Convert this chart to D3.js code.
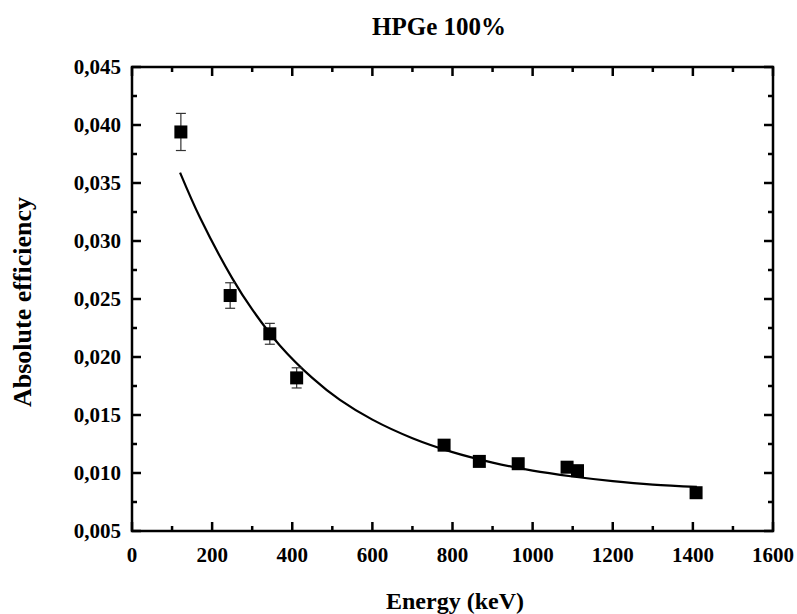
<!DOCTYPE html>
<html>
<head>
<meta charset="utf-8">
<script src="https://cdn.jsdelivr.net/npm/d3@7"></script>
<style>
  body { margin: 0; background: #fff; }
  svg { display: block; }
  text { font-family: "Liberation Serif", "Times New Roman", serif; font-weight: bold; fill: #000; }
</style>
</head>
<body>
<svg id="chart" width="797" height="614"></svg>
<script>
// ---- data ----
const energies   = [122, 245, 344, 411, 779, 867, 964, 1086, 1112, 1408];
const efficiency = [0.0394, 0.0253, 0.0220, 0.0182, 0.0124, 0.0110, 0.0108, 0.0105, 0.0102, 0.0083];
const errors     = [0.0016, 0.0011, 0.0009, 0.00087, 0.0003, 0.0003, 0.0003, 0.0003, 0.0003, 0.0003];
const fitEnergy  = [120, 170, 250, 300, 369, 450, 519, 600, 700, 800, 900, 1000, 1100, 1200, 1300, 1410];
const fitValue   = [0.0359, 0.0320, 0.0268, 0.0241, 0.0210, 0.0182, 0.0163, 0.0146, 0.0130, 0.0118, 0.0109, 0.0102, 0.0097, 0.0093, 0.0090, 0.0088];
const xTicks     = [0, 200, 400, 600, 800, 1000, 1200, 1400, 1600];
const yTicks     = [0.005, 0.010, 0.015, 0.020, 0.025, 0.030, 0.035, 0.040, 0.045];
const titleText  = "HPGe 100%";
const xLabel     = "Energy (keV)";
const yLabel     = "Absolute efficiency";

// ---- layout ----
const L = 132, R = 773, T = 67, B = 531;
const svg = d3.select("#chart");
const x = d3.scaleLinear().domain([0, 1600]).range([L, R]);
const y = d3.scaleLinear().domain([0.005, 0.045]).range([B, T]);
const fmtY = v => d3.format(".3f")(v).replace(".", ",");

const xMinor = d3.range(0, 1601, 100).filter(v => v % 200 !== 0);
const yMinor = d3.range(0, 8).map(i => 0.0075 + i * 0.005);

const ax = svg.append("g").attr("stroke", "#000").attr("stroke-width", 2.5).attr("stroke-linecap", "butt");
ax.append("rect").attr("x", L).attr("y", T).attr("width", R - L).attr("height", B - T)
  .attr("fill", "none").attr("stroke-linejoin", "miter");

const majLen = 9, minLen = 5;
xTicks.forEach(v => {
  ax.append("line").attr("x1", x(v)).attr("x2", x(v)).attr("y1", B).attr("y2", B - majLen);
  ax.append("line").attr("x1", x(v)).attr("x2", x(v)).attr("y1", T).attr("y2", T + majLen);
});
xMinor.forEach(v => {
  ax.append("line").attr("x1", x(v)).attr("x2", x(v)).attr("y1", B).attr("y2", B - minLen);
  ax.append("line").attr("x1", x(v)).attr("x2", x(v)).attr("y1", T).attr("y2", T + minLen);
});
yTicks.forEach(v => {
  ax.append("line").attr("y1", y(v)).attr("y2", y(v)).attr("x1", L).attr("x2", L + majLen);
  ax.append("line").attr("y1", y(v)).attr("y2", y(v)).attr("x1", R).attr("x2", R - majLen);
});
yMinor.forEach(v => {
  ax.append("line").attr("y1", y(v)).attr("y2", y(v)).attr("x1", L).attr("x2", L + minLen);
  ax.append("line").attr("y1", y(v)).attr("y2", y(v)).attr("x1", R).attr("x2", R - minLen);
});

// tick labels
svg.append("g").selectAll("text").data(xTicks).join("text")
  .attr("x", d => x(d)).attr("y", B + 31).attr("text-anchor", "middle")
  .attr("font-size", 21).text(d => d);
svg.append("g").selectAll("text").data(yTicks).join("text")
  .attr("x", L - 11).attr("y", d => y(d) + 7).attr("text-anchor", "end")
  .attr("font-size", 21).text(fmtY);

// titles
svg.append("text").attr("x", 439).attr("y", 35).attr("text-anchor", "middle")
  .attr("font-size", 25).text(titleText);
svg.append("text").attr("x", 455).attr("y", 609).attr("text-anchor", "middle")
  .attr("font-size", 24).text(xLabel);
svg.append("text").attr("transform", `translate(31,302) rotate(-90)`)
  .attr("text-anchor", "middle").attr("font-size", 26).text(yLabel);

// fit curve
const fitData = fitEnergy.map((e, i) => [e, fitValue[i]]);
svg.append("path").datum(fitData)
  .attr("d", d3.line().x(d => x(d[0])).y(d => y(d[1])).curve(d3.curveCatmullRom))
  .attr("fill", "none").attr("stroke", "#000").attr("stroke-width", 2.2);

// error bars
const pts = energies.map((e, i) => ({ e, v: efficiency[i], err: errors[i] }));
const eb = svg.append("g").attr("stroke", "#333").attr("stroke-width", 1.2);
pts.forEach(p => {
  const cx = x(p.e);
  eb.append("line").attr("x1", cx).attr("x2", cx).attr("y1", y(p.v + p.err)).attr("y2", y(p.v - p.err));
  eb.append("line").attr("x1", cx - 5).attr("x2", cx + 5).attr("y1", y(p.v + p.err)).attr("y2", y(p.v + p.err));
  eb.append("line").attr("x1", cx - 5).attr("x2", cx + 5).attr("y1", y(p.v - p.err)).attr("y2", y(p.v - p.err));
});

// markers
const s = 13;
svg.append("g").selectAll("rect").data(pts).join("rect")
  .attr("x", d => x(d.e) - s / 2).attr("y", d => y(d.v) - s / 2)
  .attr("width", s).attr("height", s).attr("fill", "#000");
</script>
</body>
</html>
